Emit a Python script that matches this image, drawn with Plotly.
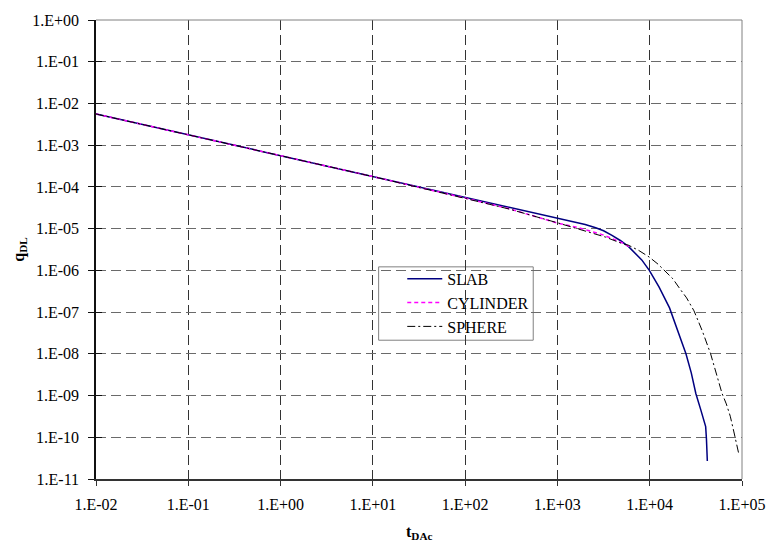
import plotly.graph_objects as go

# Dimensionless time t_DAc and rate q_DL for the three matrix-block geometries
slab_t = [1e-2, 1e-1, 1e0, 1e1, 1e2, 3e2, 1e3, 1.46e3, 2.0e3, 2.6e3, 3.16e3, 3.9e3,
          4.8e3, 5.9e3, 7.1e3, 8.2e3, 9.9e3, 1.26e4, 1.64e4, 2.01e4, 2.47e4, 2.82e4,
          3.16e4, 3.57e4, 4.04e4, 4.12e4, 4.21e4]
slab_q = [5.6e-3, 1.78e-3, 5.6e-4, 1.78e-4, 5.6e-5, 3.2e-5, 1.78e-5, 1.45e-5, 1.26e-5,
          1.05e-5, 8.9e-6, 6.9e-6, 5.2e-6, 3.7e-6, 2.5e-6, 1.78e-6, 1.0e-6, 4.0e-7,
          1.26e-7, 3.5e-8, 1.0e-8, 3.5e-9, 1.12e-9, 4.6e-10, 1.8e-10, 9.0e-11, 2.7e-11]

cyl_t = [1e-2, 1e-1, 1e0, 1e1, 1e2, 3e2, 1e3, 1.7e3, 3.06e3, 5.0e3, 6.0e3]
cyl_q = [5.6e-3, 1.78e-3, 5.6e-4, 1.77e-4, 5.4e-5, 3.0e-5, 1.36e-5, 1.05e-5, 7.2e-6,
         4.6e-6, 3.7e-6]

sph_t = [1e-2, 1e-1, 1e0, 1e1, 1e2, 3e2, 1e3, 2.03e3, 3.3e3, 5.0e3, 5.9e3, 7.6e3,
         9.86e3, 1.23e4, 1.51e4, 1.78e4, 2.09e4, 2.51e4, 3.02e4, 3.72e4, 4.57e4,
         5.25e4, 6.08e4, 6.76e4, 7.46e4, 8.13e4, 8.79e4, 9.16e4]
sph_q = [5.6e-3, 1.78e-3, 5.6e-4, 1.77e-4, 5.3e-5, 2.95e-5, 1.38e-5, 8.7e-6, 6.3e-6,
         4.4e-6, 4.0e-6, 3.0e-6, 2.09e-6, 1.41e-6, 9.3e-7, 6.3e-7, 3.8e-7, 2.19e-7,
         1.07e-7, 3.5e-8, 1.0e-8, 3.5e-9, 1.12e-9, 6.3e-10, 3.2e-10, 1.41e-10,
         6.2e-11, 4.3e-11]

x_tickvals = [1e-2, 1e-1, 1e0, 1e1, 1e2, 1e3, 1e4, 1e5]
x_ticktext = ["1.E-02", "1.E-01", "1.E+00", "1.E+01", "1.E+02", "1.E+03", "1.E+04", "1.E+05"]
y_tickvals = [10.0 ** -k for k in range(0, 12)]
y_ticktext = ["1.E+00", "1.E-01", "1.E-02", "1.E-03", "1.E-04", "1.E-05", "1.E-06",
              "1.E-07", "1.E-08", "1.E-09", "1.E-10", "1.E-11"]

FONT = "Times New Roman, Liberation Serif, serif"

# plot-area geometry in pixels (used for placing the legend box and titles)
PX_L, PX_R, PX_T, PX_B = 96, 752, 16, 479
PW, PH = PX_R - PX_L, PX_B - PX_T


def px_x(px):
    return (px - PX_L) / PW


def px_y(py):
    return (PX_B - py) / PH


fig = go.Figure()
fig.add_trace(go.Scatter(x=slab_t, y=slab_q, name="SLAB", mode="lines",
                         line=dict(color="#000080", width=1.5)))
fig.add_trace(go.Scatter(x=cyl_t, y=cyl_q, name="CYLINDER", mode="lines",
                         line=dict(color="#FF00FF", width=1.5, dash="4px,3px")))
fig.add_trace(go.Scatter(x=sph_t, y=sph_q, name="SPHERE", mode="lines",
                         line=dict(color="#000000", width=1, dash="8px,3px,2px,3px")))

xrange = [-2, 5]
yrange = [-11, 0]

fig.update_layout(
    width=777, height=546,
    margin=dict(l=PX_L, r=777 - PX_R, t=PX_T, b=546 - PX_B),
    paper_bgcolor="white", plot_bgcolor="white",
    font=dict(family=FONT, size=16, color="black"),
    showlegend=True,
    legend=dict(x=px_x(407), y=px_y(260), xanchor="left", yanchor="top",
                bgcolor="rgba(0,0,0,0)", borderwidth=0,
                font=dict(family=FONT, size=16, color="black"),
                itemwidth=35),
    xaxis=dict(type="log", range=xrange, tickvals=x_tickvals, ticktext=x_ticktext,
               showgrid=True, gridcolor="#333333", gridwidth=1, griddash="10px,5px",
               showline=True, linecolor="#333333", linewidth=1.5,
               ticks="outside", ticklen=5, tickcolor="#333333",
               ticklabelstandoff=5, zeroline=False,
               tickfont=dict(family=FONT, size=16, color="black")),
    yaxis=dict(type="log", range=yrange, tickvals=y_tickvals, ticktext=y_ticktext,
               showgrid=True, gridcolor="#6a6a6a", gridwidth=1, griddash="10px,5px",
               showline=True, linecolor="#111111", linewidth=1.5,
               ticks="outside", ticklen=6, tickcolor="#111111",
               ticklabelstandoff=6, zeroline=False,
               tickfont=dict(family=FONT, size=16, color="black")),
    # companion axes supply the inner half of the cross-shaped tick marks
    xaxis2=dict(type="log", range=xrange, tickvals=x_tickvals, showticklabels=False,
                overlaying="x", side="bottom", showgrid=False, ticks="inside",
                ticklen=5, tickcolor="#333333", zeroline=False, showline=False),
    yaxis2=dict(type="log", range=yrange, tickvals=y_tickvals, showticklabels=False,
                overlaying="y", side="left", showgrid=False, ticks="inside",
                ticklen=6, tickcolor="#111111", zeroline=False, showline=False),
)

# invisible trace to activate the companion axes
fig.add_trace(go.Scatter(x=[1e-2], y=[1e-11], xaxis="x2", yaxis="y2", mode="markers",
                         marker=dict(opacity=0), showlegend=False, hoverinfo="skip"))

# top and right frame of the plot area
fig.add_shape(type="line", xref="paper", yref="paper", x0=0, x1=1, y0=1, y1=1,
              line=dict(color="#808080", width=1))
fig.add_shape(type="line", xref="paper", yref="paper", x0=1, x1=1, y0=0, y1=1,
              line=dict(color="#808080", width=1))

# legend frame, covering the grid behind the legend entries
fig.add_shape(type="rect", xref="paper", yref="paper", layer="between",
              x0=px_x(383), x1=px_x(540), y0=px_y(339), y1=px_y(265),
              fillcolor="white", line=dict(color="#808080", width=1))

# axis titles
fig.add_annotation(text="<b>t<sub>DAc</sub></b>", xref="paper", yref="paper",
                   x=0.5, y=px_y(533), xanchor="center", yanchor="middle",
                   showarrow=False, font=dict(family=FONT, size=16, color="black"))
fig.add_annotation(text="<b>q<sub>DL</sub></b>", xref="paper", yref="paper",
                   x=px_x(18), y=0.5, xanchor="center", yanchor="middle",
                   textangle=-90, showarrow=False,
                   font=dict(family=FONT, size=16, color="black"))

fig.write_html("out.html")
